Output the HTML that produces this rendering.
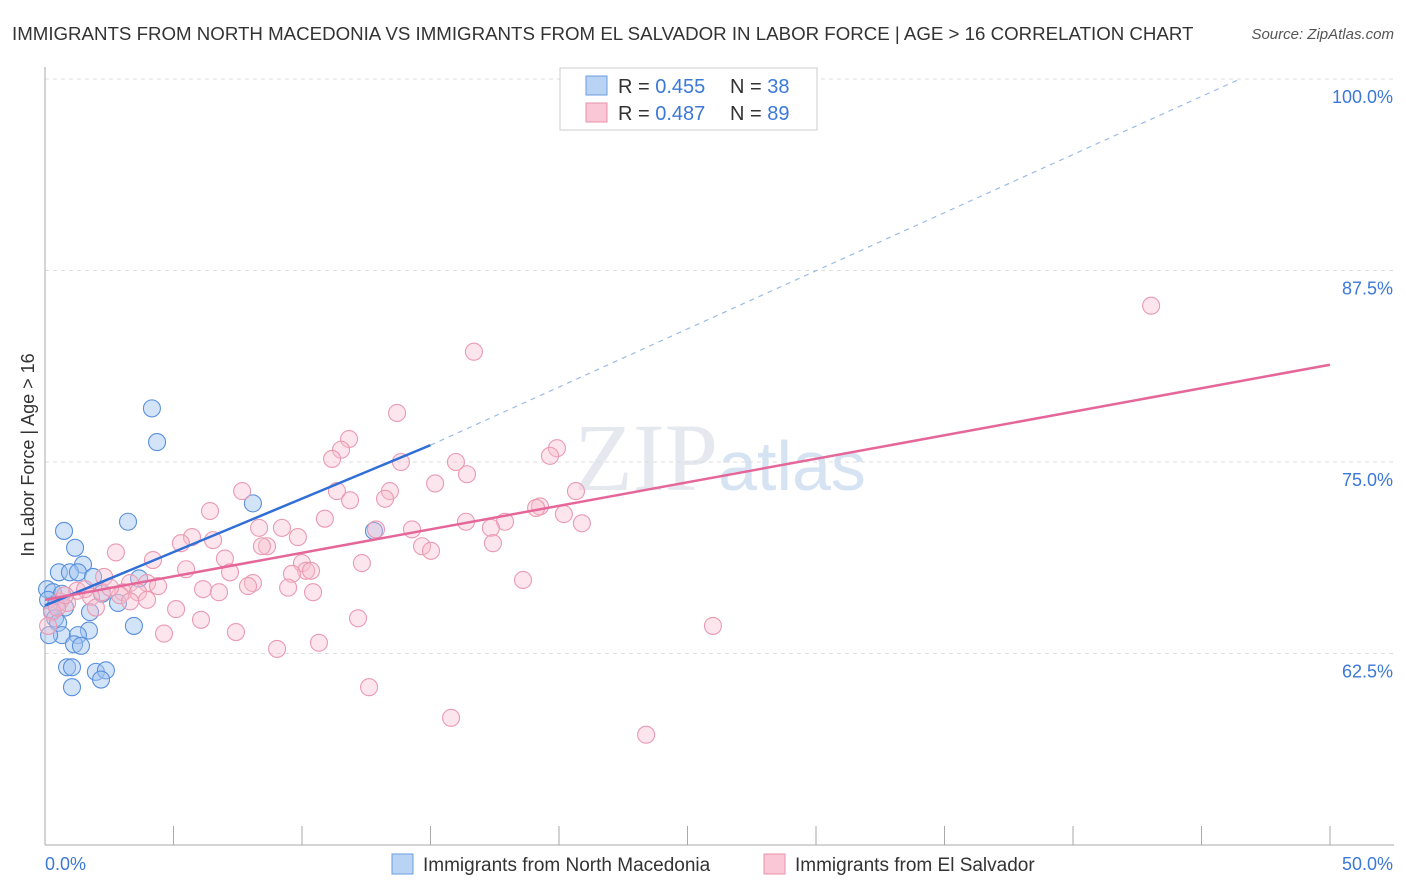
<!DOCTYPE html>
<html><head><meta charset="utf-8"><style>
body{margin:0;background:#fff;font-family:"Liberation Sans",sans-serif}
svg{display:block}
</style></head><body>
<svg id="c" width="1406" height="892">
<text x="12" y="40" font-size="18.7" fill="#333">IMMIGRANTS FROM NORTH MACEDONIA VS IMMIGRANTS FROM EL SALVADOR IN LABOR FORCE | AGE &gt; 16 CORRELATION CHART</text>
<text x="1394" y="39" font-size="15" fill="#555" font-style="italic" text-anchor="end">Source: ZipAtlas.com</text>
<text x="720" y="490" font-size="96" fill="#e5e8ee" text-anchor="middle" font-family="Liberation Serif,serif">ZIP<tspan fill="#d5e3f3" font-family="Liberation Sans,sans-serif" font-size="70">atlas</tspan></text>
<g id="grid"></g><g id="axes"></g><g id="pts"></g><g id="lines"></g>
<text x="34" y="455" font-size="18" fill="#333" text-anchor="middle" transform="rotate(-90 34 455)">In Labor Force | Age &gt; 16</text>
<g>
<rect x="560" y="68" width="257" height="62" fill="#fff" stroke="#ccc"/>
<rect x="586" y="76" width="21" height="19" fill="#b9d3f5" stroke="#6a9ee0"/>
<rect x="586" y="103" width="21" height="19" fill="#f9c7d6" stroke="#ea90ab"/>
<text x="618" y="93" font-size="20" fill="#333">R = <tspan fill="#3b78d8">0.455</tspan></text>
<text x="730" y="93" font-size="20" fill="#333">N = <tspan fill="#3b78d8">38</tspan></text>
<text x="618" y="120" font-size="20" fill="#333">R = <tspan fill="#3b78d8">0.487</tspan></text>
<text x="730" y="120" font-size="20" fill="#333">N = <tspan fill="#3b78d8">89</tspan></text>
</g>
<g>
<rect x="392" y="854" width="21" height="20" fill="#b9d3f5" stroke="#6a9ee0"/>
<text x="423" y="871" font-size="19" fill="#333">Immigrants from North Macedonia</text>
<rect x="764" y="854" width="21" height="20" fill="#f9c7d6" stroke="#ea90ab"/>
<text x="795" y="871" font-size="19" fill="#333">Immigrants from El Salvador</text>
</g>
</svg>
<script>
const yTicks=[62.5,75,87.5,100];
const yTickLabels=["62.5%","75.0%","87.5%","100.0%"];
const xTicks=[0,5,10,15,20,25,30,35,40,45,50];
const blueX=[4.16,4.36,8.09,3.23,0.74,1.17,1.48,0.54,0.97,1.28,1.87,3.66,0.08,0.31,0.66,2.22,2.84,0.12,0.43,0.27,0.78,1.75,0.39,0.51,3.46,1.71,0.66,0.16,1.28,1.13,1.40,0.86,1.05,1.98,2.37,2.18,1.05,12.80];
const blueY=[78.5,76.3,72.3,71.1,70.5,69.4,68.3,67.8,67.8,67.8,67.5,67.4,66.7,66.5,66.4,66.4,65.8,66.0,65.7,65.3,65.5,65.2,64.8,64.5,64.3,64.0,63.7,63.7,63.7,63.1,63.0,61.6,61.6,61.3,61.4,60.8,60.3,70.5];
const pinkX=[43.04,16.69,13.70,11.83,11.52,11.17,19.92,19.65,13.85,15.99,16.42,15.18,7.67,11.36,13.42,20.66,13.23,11.87,6.42,19.26,19.11,10.89,20.19,17.90,16.38,20.89,17.35,8.33,9.22,14.28,12.88,5.72,6.54,5.29,9.84,17.43,8.64,14.67,8.44,15.02,2.76,4.20,10.00,7.00,12.33,5.49,10.16,10.35,9.61,7.20,18.60,2.30,3.31,3.97,8.09,7.90,4.40,9.46,6.15,6.77,10.43,1.25,2.22,3.04,3.62,1.79,2.92,3.97,3.31,0.58,0.86,5.10,1.98,6.07,12.18,25.99,4.63,7.43,10.66,9.03,12.61,15.80,23.39,0.27,0.47,0.12,1.56,2.53,0.78];
const pinkY=[85.2,82.2,78.2,76.5,75.8,75.2,75.9,75.4,75.0,75.0,74.2,73.6,73.1,73.1,73.1,73.1,72.6,72.5,71.8,72.1,72.0,71.3,71.6,71.1,71.1,71.0,70.7,70.7,70.7,70.6,70.6,70.1,69.9,69.7,70.1,69.7,69.5,69.5,69.5,69.2,69.1,68.6,68.4,68.7,68.4,68.0,67.9,67.9,67.7,67.8,67.3,67.5,67.1,67.1,67.1,66.9,66.9,66.8,66.7,66.5,66.5,66.6,66.5,66.5,66.5,66.2,66.3,66.0,65.9,65.9,65.8,65.4,65.5,64.7,64.8,64.3,63.8,63.9,63.2,62.8,60.3,58.3,57.2,65.2,65.5,64.3,66.7,66.8,66.3];
const blueLine=[[0,65.63],[15,76.1]];
const blueDash=[[15,76.1],[46.5,100]];
const pinkLine=[[0,66.0],[50,81.35]];
const NS="http://www.w3.org/2000/svg";
const sx=v=>45+v/50*1285;
const sy=v=>845-(v-50)/50*766;
function mk(p,t,a){const e=document.createElementNS(NS,t);for(const k in a)e.setAttribute(k,a[k]);document.getElementById(p).appendChild(e);return e;}
yTicks.forEach((t,i)=>{
 const l=mk('grid','line',{x1:45,x2:1394,y1:sy(t),y2:sy(t),stroke:'#ddd','stroke-dasharray':'4,4'});
 
 
 const tx=mk('grid','text',{x:1393,y:sy(t)+24,'font-size':18,fill:'#3b78d8','text-anchor':'end'});
 tx.textContent=yTickLabels[i];
 
 
});
const ax=mk('axes','line',{x1:45,x2:45,y1:67,y2:845,stroke:'#aaa'});


const xa=mk('axes','line',{x1:45,x2:1394,y1:845,y2:845,stroke:'#aaa'});


xTicks.forEach(t=>{
 const l=mk('axes','line',{x1:sx(t),x2:sx(t),y1:826,y2:845,stroke:'#aaa'});
 
 
});
[[0,'0.0%','start',45],[50,'50.0%','end',1393]].forEach(d=>{
 const t=mk('axes','text',{x:d[3],y:870,'font-size':18,fill:'#3b78d8','text-anchor':d[2]});
 t.textContent=d[1];
 
 
});
blueX.forEach((x,i)=>{
 const c=mk('pts','circle',{cx:sx(x),cy:sy(blueY[i]),r:8.5,fill:'rgba(160,196,240,0.45)',stroke:'#5a90dc','stroke-width':1.1});
 
 
});
pinkX.forEach((x,i)=>{
 const c=mk('pts','circle',{cx:sx(x),cy:sy(pinkY[i]),r:8.5,fill:'rgba(248,190,208,0.4)',stroke:'#ea9ab2','stroke-width':1.1});
 
 
});
const bl=mk('lines','line',{x1:sx(blueLine[0][0]),y1:sy(blueLine[0][1]),x2:sx(blueLine[1][0]),y2:sy(blueLine[1][1]),stroke:'#2f6fd6','stroke-width':2.5});


const bd=mk('lines','line',{x1:sx(blueDash[0][0]),y1:sy(blueDash[0][1]),x2:sx(blueDash[1][0]),y2:sy(blueDash[1][1]),stroke:'#9bbbe8','stroke-width':1.2,'stroke-dasharray':'5,5'});


const pl=mk('lines','line',{x1:sx(pinkLine[0][0]),y1:sy(pinkLine[0][1]),x2:sx(pinkLine[1][0]),y2:sy(pinkLine[1][1]),stroke:'#e5679a','stroke-width':2.5});


</script>
</body></html>
